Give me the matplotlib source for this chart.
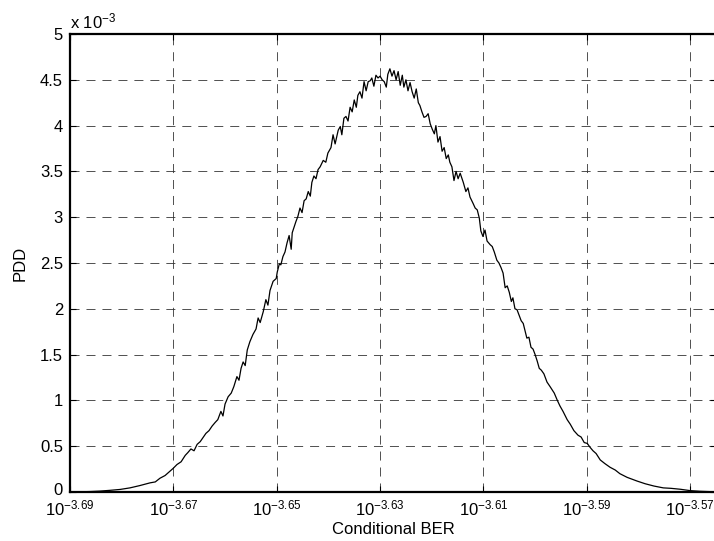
import numpy as np
import matplotlib
matplotlib.use("Agg")
import matplotlib.pyplot as plt
import matplotlib.transforms as mtransforms

plt.rcParams['font.family'] = ['Liberation Sans', 'DejaVu Sans']
plt.rcParams['mathtext.fontset'] = 'custom'
plt.rcParams['mathtext.rm'] = 'Liberation Sans'
plt.rcParams['mathtext.it'] = 'Liberation Sans'
plt.rcParams['lines.scale_dashes'] = False

# log10 of conditional BER
ber_exp = [
    -3.6900, -3.6881, -3.6861, -3.6842, -3.6823, -3.6803, -3.6784, -3.6765, -3.6755, -3.6745,
    -3.6735, -3.6726, -3.6716, -3.6706, -3.6700, -3.6693, -3.6685, -3.6677, -3.6672, -3.6666,
    -3.6660, -3.6654, -3.6648, -3.6643, -3.6637, -3.6631, -3.6625, -3.6619, -3.6614, -3.6608,
    -3.6604, -3.6600, -3.6594, -3.6588, -3.6583, -3.6577, -3.6573, -3.6569, -3.6565, -3.6561,
    -3.6557, -3.6552, -3.6546, -3.6540, -3.6536, -3.6532, -3.6526, -3.6521, -3.6517, -3.6513,
    -3.6507, -3.6501, -3.6499, -3.6495, -3.6492, -3.6488, -3.6484, -3.6480, -3.6476, -3.6472,
    -3.6470, -3.6466, -3.6463, -3.6459, -3.6455, -3.6451, -3.6447, -3.6443, -3.6439, -3.6435,
    -3.6432, -3.6428, -3.6424, -3.6420, -3.6416, -3.6410, -3.6405, -3.6401, -3.6395, -3.6391,
    -3.6387, -3.6381, -3.6377, -3.6374, -3.6370, -3.6366, -3.6362, -3.6358, -3.6354, -3.6350,
    -3.6346, -3.6343, -3.6339, -3.6335, -3.6331, -3.6327, -3.6323, -3.6319, -3.6316, -3.6312,
    -3.6308, -3.6304, -3.6300, -3.6296, -3.6292, -3.6288, -3.6285, -3.6281, -3.6277, -3.6273,
    -3.6269, -3.6265, -3.6261, -3.6257, -3.6254, -3.6250, -3.6246, -3.6242, -3.6238, -3.6234,
    -3.6230, -3.6226, -3.6223, -3.6219, -3.6215, -3.6211, -3.6207, -3.6203, -3.6199, -3.6195,
    -3.6192, -3.6188, -3.6184, -3.6180, -3.6176, -3.6172, -3.6168, -3.6165, -3.6161, -3.6157,
    -3.6153, -3.6149, -3.6145, -3.6139, -3.6134, -3.6130, -3.6126, -3.6120, -3.6116, -3.6112,
    -3.6108, -3.6105, -3.6101, -3.6097, -3.6093, -3.6087, -3.6083, -3.6079, -3.6074, -3.6070,
    -3.6066, -3.6062, -3.6058, -3.6054, -3.6050, -3.6046, -3.6043, -3.6039, -3.6035, -3.6031,
    -3.6027, -3.6023, -3.6019, -3.6016, -3.6012, -3.6008, -3.6004, -3.6000, -3.5996, -3.5992,
    -3.5988, -3.5983, -3.5977, -3.5971, -3.5963, -3.5957, -3.5952, -3.5946, -3.5938, -3.5932,
    -3.5925, -3.5917, -3.5911, -3.5905, -3.5899, -3.5894, -3.5888, -3.5882, -3.5874, -3.5865,
    -3.5855, -3.5845, -3.5836, -3.5822, -3.5803, -3.5787, -3.5770, -3.5752, -3.5737, -3.5719,
    -3.5700, -3.5681, -3.5657,
]

# PDD values in units of 1e-3
pdd = [
    0.000, 0.002, 0.005, 0.010, 0.018, 0.028, 0.045, 0.070, 0.085, 0.100,
    0.110, 0.150, 0.180, 0.230, 0.260, 0.300, 0.330, 0.400, 0.430, 0.470,
    0.450, 0.520, 0.550, 0.590, 0.640, 0.670, 0.720, 0.760, 0.790, 0.880,
    0.830, 0.960, 1.040, 1.080, 1.150, 1.260, 1.220, 1.350, 1.420, 1.380,
    1.550, 1.640, 1.720, 1.780, 1.900, 1.850, 1.970, 2.100, 2.040, 2.200,
    2.300, 2.330, 2.400, 2.490, 2.480, 2.570, 2.620, 2.720, 2.800, 2.650,
    2.830, 2.900, 2.950, 3.010, 3.100, 3.050, 3.180, 3.200, 3.280, 3.230,
    3.380, 3.450, 3.420, 3.520, 3.550, 3.620, 3.600, 3.700, 3.760, 3.900,
    3.800, 3.950, 3.990, 3.900, 4.080, 4.100, 4.050, 4.200, 4.150, 4.280,
    4.200, 4.330, 4.370, 4.300, 4.480, 4.380, 4.480, 4.490, 4.520, 4.430,
    4.550, 4.520, 4.540, 4.500, 4.480, 4.420, 4.560, 4.620, 4.540, 4.600,
    4.500, 4.590, 4.440, 4.550, 4.420, 4.500, 4.380, 4.470, 4.370, 4.300,
    4.400, 4.250, 4.220, 4.150, 4.090, 4.100, 4.130, 4.020, 3.960, 3.910,
    4.000, 3.820, 3.880, 3.720, 3.760, 3.640, 3.680, 3.600, 3.550, 3.400,
    3.500, 3.420, 3.480, 3.380, 3.280, 3.320, 3.220, 3.150, 3.100, 3.080,
    2.990, 2.850, 2.790, 2.860, 2.740, 2.700, 2.680, 2.620, 2.530, 2.500,
    2.450, 2.390, 2.230, 2.250, 2.180, 2.080, 2.120, 2.000, 1.990, 1.930,
    1.870, 1.840, 1.750, 1.680, 1.690, 1.580, 1.560, 1.500, 1.430, 1.350,
    1.330, 1.290, 1.200, 1.150, 1.080, 1.000, 0.940, 0.880, 0.790, 0.740,
    0.670, 0.620, 0.600, 0.540, 0.530, 0.490, 0.450, 0.420, 0.350, 0.310,
    0.270, 0.240, 0.200, 0.160, 0.120, 0.090, 0.065, 0.045, 0.040, 0.030,
    0.015, 0.008, 0.003,
]

xtick_exp = [-3.69, -3.67, -3.65, -3.63, -3.61, -3.59, -3.57]
ytick_vals = [0, 0.5, 1, 1.5, 2, 2.5, 3, 3.5, 4, 4.5, 5]
ytick_labels = ['0', '0.5', '1', '1.5', '2', '2.5', '3', '3.5', '4', '4.5', '5']

W, H = 714, 541
fig = plt.figure(figsize=(W / 100, H / 100), dpi=100)
left_px, right_px, top_px, bot_px = 70, 716, 34, 492
ax = fig.add_axes([left_px / W, (H - bot_px) / H,
                   (right_px - left_px) / W, (bot_px - top_px) / H])

x = 10 ** np.array(ber_exp)
y = np.array(pdd) * 1e-3
ax.plot(x, y, color='k', lw=0.9)

ax.set_xscale('log')
ax.set_xlim(10 ** -3.69, 10 ** -3.565)
ax.set_ylim(0, 5e-3)
ax.set_xticks([10 ** e for e in xtick_exp])
ax.set_xticklabels([r'$\mathregular{10^{%.2f}}$' % e for e in xtick_exp])
ax.xaxis.set_minor_locator(matplotlib.ticker.NullLocator())
ax.set_yticks([v * 1e-3 for v in ytick_vals])
ax.set_yticklabels(ytick_labels)

ax.tick_params(axis='both', direction='in', length=4, width=0.8, labelsize=12,
               top=True, right=True, colors='k')
ax.tick_params(axis='x', pad=4.5)
ax.tick_params(axis='y', pad=5)

# nudge the "0" label slightly up so it does not collide with the first x label
zero_lbl = ax.get_yticklabels()[0]
zero_lbl.set_transform(zero_lbl.get_transform() +
                       mtransforms.ScaledTranslation(0, 3 / 100, fig.dpi_scale_trans))

ax.grid(True, which='major', color='0.2', lw=0.6, linestyle=(0, (6.5, 5.0)))
for s in ax.spines.values():
    s.set_linewidth(1.6)
    s.set_color('k')

ax.text(0.0, 1.006, r'x $\mathregular{10^{-3}}$', transform=ax.transAxes,
        fontsize=12, ha='left', va='bottom')
ax.set_xlabel('Conditional BER', fontsize=12, labelpad=3)
ax.set_ylabel('PDD', fontsize=12, labelpad=9)

fig.savefig('out.png', dpi=100)
